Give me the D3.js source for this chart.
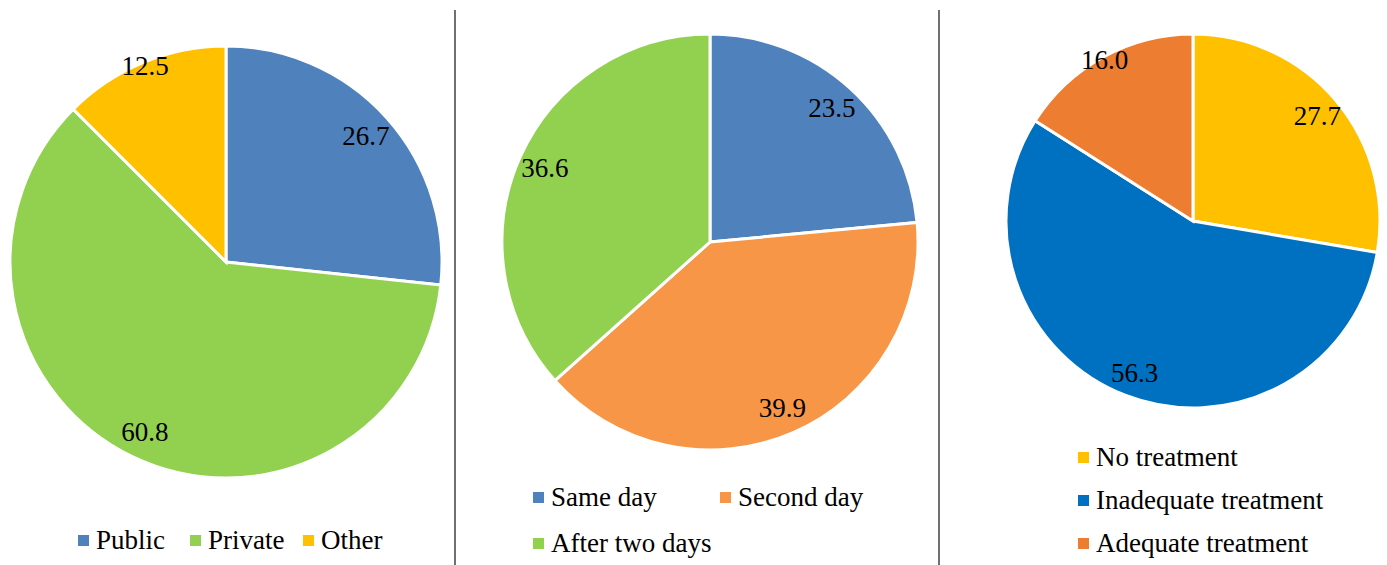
<!DOCTYPE html>
<html>
<head>
<meta charset="utf-8">
<script src="https://cdn.jsdelivr.net/npm/d3@7"></script>
<style>
  body { margin: 0; background: #fff; }
  svg text { font-family: "Liberation Serif", "Times New Roman", Tinos, serif; fill: #000; }
</style>
</head>
<body>
<div id="vis"></div>
<script>
const FRAME_WIDTH = 1387;
const FRAME_HEIGHT = 565;

// data
const CATS1 = ["Public", "Private", "Other"];
const VALS1 = [26.7, 60.8, 12.5];
const COLS1 = ["#4F81BD", "#92D050", "#FFC000"];

const CATS2 = ["Same day", "Second day", "After two days"];
const VALS2 = [23.5, 39.9, 36.6];
const COLS2 = ["#4F81BD", "#F79646", "#92D050"];

const CATS3 = ["No treatment", "Inadequate treatment", "Adequate treatment"];
const VALS3 = [27.7, 56.3, 16.0];
const COLS3 = ["#FFC000", "#0070C0", "#ED7D31"];

const FRAME = d3.select("#vis")
                .append("svg")
                  .attr("width", FRAME_WIDTH)
                  .attr("height", FRAME_HEIGHT);

// panel dividers
[455, 939].forEach((x) => {
  FRAME.append("line")
      .attr("x1", x).attr("x2", x)
      .attr("y1", 10).attr("y2", FRAME_HEIGHT)
      .attr("stroke", "#404040")
      .attr("stroke-width", 1.5);
});

function drawPie(cats, vals, cols, cx, cy, r, legend) {
  const g = FRAME.append("g")
      .attr("transform", "translate(" + cx + "," + cy + ")");

  const pie = d3.pie().sort(null).value((d) => d);
  const arcs = pie(vals);
  const arc = d3.arc().innerRadius(0).outerRadius(r);

  g.selectAll(".slice")
    .data(arcs)
    .enter()
    .append("path")
      .attr("d", arc)
      .attr("fill", (d, i) => cols[i])
      .attr("stroke", "#fff")
      .attr("stroke-width", 3);

  // labels: small slices pushed out to the rim, like excel's best fit
  const lpos = (d) => {
    const a = (d.startAngle + d.endAngle) / 2;
    const k = d.value < 20 ? 0.98 : 0.87;
    return [Math.sin(a) * r * k, -Math.cos(a) * r * k];
  };
  g.selectAll(".lbl")
    .data(arcs)
    .enter()
    .append("text")
      .attr("x", (d) => lpos(d)[0])
      .attr("y", (d) => lpos(d)[1] + 9)
      .attr("text-anchor", "middle")
      .attr("font-size", 27)
      .text((d) => d.value.toFixed(1));

  // legend
  legend.forEach((p, i) => {
    FRAME.append("rect")
        .attr("x", p[0])
        .attr("y", p[1] - 5)
        .attr("width", 11)
        .attr("height", 11)
        .attr("fill", cols[i]);
    FRAME.append("text")
        .attr("x", p[0] + 18)
        .attr("y", p[1] + 9)
        .attr("font-size", 27)
        .text(cats[i]);
  });
}

drawPie(CATS1, VALS1, COLS1, 226, 262, 216, [[78, 540], [190, 540], [303, 540]]);
drawPie(CATS2, VALS2, COLS2, 710, 242, 208, [[533, 497], [720, 497], [533, 543]]);
drawPie(CATS3, VALS3, COLS3, 1193, 221, 187, [[1078, 457], [1078, 500], [1078, 543]]);
</script>
</body>
</html>
